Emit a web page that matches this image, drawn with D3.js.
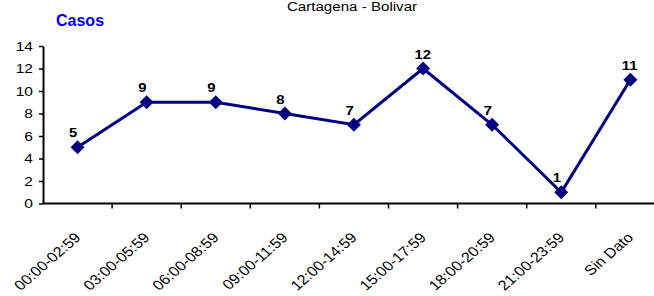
<!DOCTYPE html>
<html><head><meta charset="utf-8">
<script src="https://cdn.jsdelivr.net/npm/d3@7"></script>
<style>body{margin:0;background:#fff}svg{display:block;font-family:"Liberation Sans",Arial,sans-serif}</style>
</head><body>
<svg id="c" width="654" height="296"></svg>
<script>
const categories = ["00:00-02:59","03:00-05:59","06:00-08:59","09:00-11:59","12:00-14:59","15:00-17:59","18:00-20:59","21:00-23:59","Sin Dato"];
const values = [5,9,9,8,7,12,7,1,11];
const yTicks = [0,2,4,6,8,10,12,14];
const title = "Cartagena - Bolivar";
const yTitle = "Casos";

const svg = d3.select("#c");
const mLeft = 43, mTop = 46, mBottom = 203.5, band = 69.1, sx = 1.15;
const x = d3.scaleBand().domain(categories).range([mLeft, mLeft + band*categories.length]).padding(0);
const y = d3.scaleLinear().domain([0,14]).range([mBottom, mTop]);

svg.append("text").attr("transform",`translate(352,11) scale(1.12,1)`).attr("text-anchor","middle")
  .attr("font-size",13.5).attr("fill","#000").text(title);
svg.append("text").attr("x",56).attr("y",26).attr("font-size",16).attr("font-weight","bold")
  .attr("fill","#0000FF").text(yTitle);

// y axis
const ya = svg.append("g").attr("transform",`translate(${mLeft},0)`)
  .call(d3.axisLeft(y).tickValues(yTicks).tickSize(4).tickSizeOuter(0).tickPadding(4.7));
ya.select(".domain").attr("stroke","#000").attr("stroke-width",2);
ya.selectAll(".tick line").attr("stroke","#000").attr("stroke-width",1.5);
ya.selectAll(".tick text").attr("font-size",13.5).attr("fill","#000")
  .attr("font-family","Liberation Sans, Arial, sans-serif").attr("transform",`scale(${sx},1)`);

// x axis
svg.append("line").attr("x1",mLeft).attr("x2",654).attr("y1",mBottom).attr("y2",mBottom)
  .attr("stroke","#000").attr("stroke-width",2);
svg.append("g").selectAll("line").data(categories.slice(1)).join("line")
  .attr("x1",d=>x(d)).attr("x2",d=>x(d)).attr("y1",mBottom).attr("y2",mBottom+5)
  .attr("stroke","#000").attr("stroke-width",1.5);
svg.append("g").selectAll("text").data(categories).join("text")
  .attr("transform",d=>`translate(${x(d)+x.bandwidth()/2+4},${mBottom+35}) scale(${sx},1) rotate(-45)`)
  .attr("text-anchor","end").attr("font-size",14).attr("fill","#000").text(d=>d);

// line
const cx = (d,i)=>x(categories[i])+x.bandwidth()/2;
svg.append("path").datum(values)
  .attr("d",d3.line().x((d,i)=>cx(d,i)).y(d=>y(d)))
  .attr("fill","none").attr("stroke","#000080").attr("stroke-width",3);
svg.append("g").selectAll("path").data(values).join("path")
  .attr("d",d3.symbol(d3.symbolSquare,98)())
  .attr("transform",(d,i)=>`translate(${cx(d,i)},${y(d)}) rotate(45)`)
  .attr("fill","#000080");
svg.append("g").selectAll("text").data(values).join("text")
  .attr("transform",(d,i)=>`translate(${cx(d,i)-8.5},${y(d)-10}) scale(1.1,1)`)
  .attr("text-anchor","start").attr("font-size",13.5).attr("font-weight","bold").attr("fill","#000").text(d=>d);
</script>
</body></html>
